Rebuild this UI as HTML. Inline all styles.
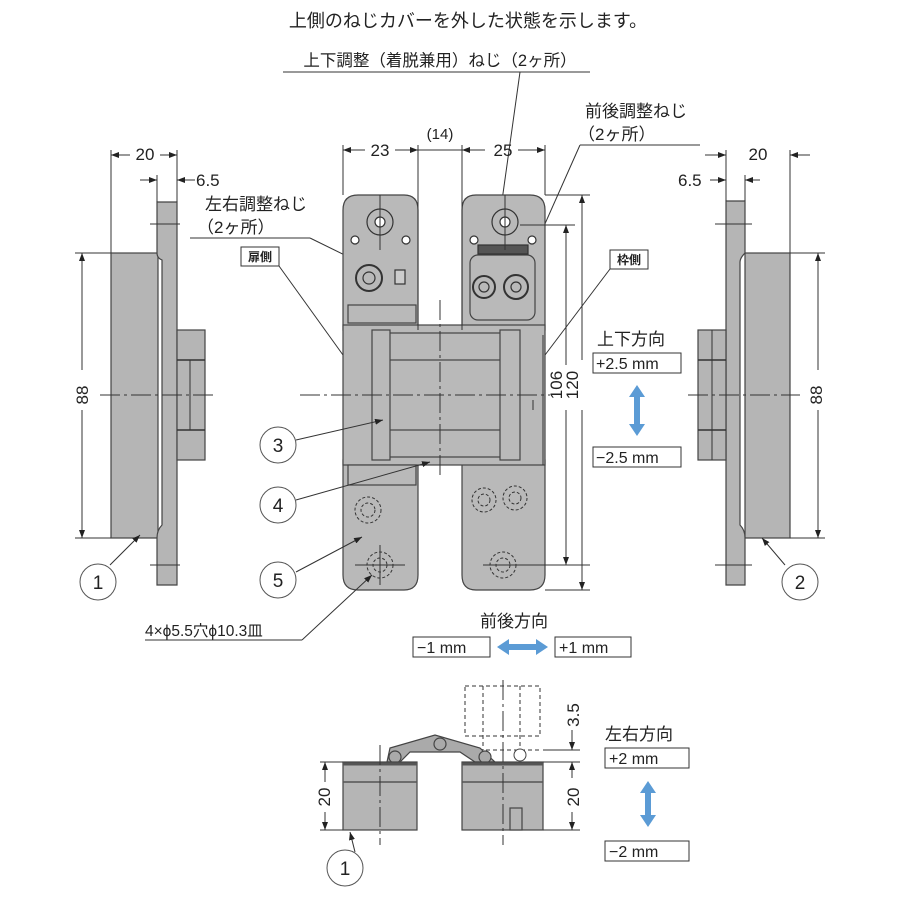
<!DOCTYPE html>
<html><head><meta charset="utf-8"><style>
html,body{margin:0;padding:0;background:#fff;}
svg{display:block;font-family:"Liberation Sans","Noto Sans CJK JP",sans-serif;}
</style></head><body>
<svg width="900" height="900" viewBox="0 0 900 900" xmlns="http://www.w3.org/2000/svg">
<defs>
<marker id="ar" markerWidth="8" markerHeight="6" refX="8" refY="3" orient="auto-start-reverse" markerUnits="userSpaceOnUse"><path d="M0,0 L8,3 L0,6z" fill="#222"/></marker>
</defs>
<g fill="#222" font-size="16">
<text x="468" y="27" text-anchor="middle" font-size="18">上側のねじカバーを外した状態を示します。</text>
<text x="440" y="66" text-anchor="middle" font-size="16.5">上下調整（着脱兼用）ねじ（2ヶ所）</text>
<text x="585" y="117" font-size="17">前後調整ねじ</text>
<text x="578" y="140" font-size="17">（2ヶ所）</text>
<text x="205" y="210" font-size="17">左右調整ねじ</text>
<text x="197" y="233" font-size="17">（2ヶ所）</text>
</g>
<g stroke="#333" stroke-width="1" fill="none">
<line x1="283" y1="72" x2="590" y2="72"/>
<line x1="520" y1="72" x2="500" y2="215"/>
<line x1="580" y1="145" x2="700" y2="145"/>
<line x1="580" y1="145" x2="520" y2="280"/>
<line x1="190" y1="238" x2="310" y2="238"/>
<line x1="310" y1="238" x2="365" y2="265"/>
</g>

<!-- LEFT SIDE VIEW -->
<g stroke="#444" stroke-width="1.2" fill="#b5b5b5">
<rect x="111" y="253" width="47" height="285"/>
<path d="M157,202 H177 V585 H157 V538 Q157,530 162,525 V260 Q157,258 157,253 Z"/>
<rect x="177" y="330" width="28" height="130"/>
</g>
<g stroke="#333" stroke-width="1.5"><line x1="177" y1="360" x2="205" y2="360"/><line x1="177" y1="430" x2="205" y2="430"/><line x1="190" y1="360" x2="190" y2="430" stroke-width="1"/></g>
<g stroke="#333" stroke-width="1" fill="none">
<line x1="111" y1="150" x2="111" y2="253"/><line x1="177" y1="150" x2="177" y2="202"/>
<line x1="111" y1="155" x2="130" y2="155" marker-start="url(#ar)"/><line x1="160" y1="155" x2="177" y2="155" marker-end="url(#ar)"/>
<line x1="157" y1="175" x2="157" y2="202"/>
<line x1="140" y1="180" x2="157" y2="180" marker-end="url(#ar)"/><line x1="195" y1="180" x2="177" y2="180" marker-end="url(#ar)"/>
<line x1="75" y1="253" x2="111" y2="253"/><line x1="75" y1="538" x2="111" y2="538"/>
<line x1="82" y1="253" x2="82" y2="370" marker-start="url(#ar)"/><line x1="82" y1="410" x2="82" y2="538" marker-end="url(#ar)"/>
<line x1="100" y1="395" x2="215" y2="395" stroke-dasharray="20,4,3,4"/>
<line x1="150" y1="224" x2="180" y2="224"/><line x1="150" y1="565" x2="180" y2="565"/>
<line x1="110" y1="565" x2="140" y2="535" marker-end="url(#ar)"/>
</g>
<g fill="#222" font-size="17">
<text x="145" y="160" text-anchor="middle">20</text>
<text x="196" y="186">6.5</text>
<text x="88" y="395" text-anchor="middle" transform="rotate(-90 88 395)">88</text>
</g>

<!-- RIGHT SIDE VIEW -->
<g stroke="#444" stroke-width="1.2" fill="#b5b5b5">
<rect x="745" y="253" width="45" height="285"/>
<path d="M726,201 H745 V253 Q740,258 740,262 V525 Q745,530 745,538 V585 H726 Z"/>
<rect x="698" y="330" width="28" height="130"/>
</g>
<g stroke="#333" stroke-width="1.5"><line x1="698" y1="360" x2="726" y2="360"/><line x1="698" y1="430" x2="726" y2="430"/><line x1="712" y1="330" x2="712" y2="460" stroke-width="1"/></g>
<g stroke="#333" stroke-width="1" fill="none">
<line x1="726" y1="150" x2="726" y2="201"/><line x1="790" y1="150" x2="790" y2="253"/>
<line x1="705" y1="155" x2="726" y2="155" marker-end="url(#ar)"/><line x1="810" y1="155" x2="790" y2="155" marker-end="url(#ar)"/>
<line x1="745" y1="175" x2="745" y2="201"/>
<line x1="710" y1="180" x2="726" y2="180" marker-end="url(#ar)"/><line x1="760" y1="180" x2="745" y2="180" marker-end="url(#ar)"/>
<line x1="790" y1="253" x2="825" y2="253"/><line x1="790" y1="538" x2="825" y2="538"/>
<line x1="818" y1="253" x2="818" y2="370" marker-start="url(#ar)"/><line x1="818" y1="410" x2="818" y2="538" marker-end="url(#ar)"/>
<line x1="688" y1="395" x2="800" y2="395" stroke-dasharray="20,4,3,4"/>
<line x1="715" y1="224" x2="752" y2="224"/><line x1="715" y1="565" x2="752" y2="565"/>
<line x1="785" y1="565" x2="762" y2="538" marker-end="url(#ar)"/>
</g>
<g fill="#222" font-size="17">
<text x="758" y="160" text-anchor="middle">20</text>
<text x="678" y="186">6.5</text>
<text x="822" y="395" text-anchor="middle" transform="rotate(-90 822 395)">88</text>
</g>

<!-- CENTER HINGE -->
<g stroke="#444" stroke-width="1.2" fill="#b9b9b9">
<path d="M358,195 H404 Q418,195 418,210 V330 H343 V210 Q343,195 358,195 Z"/>
<path d="M476,195 H530 Q545,195 545,210 V330 H462 V210 Q462,195 476,195 Z"/>
<path d="M343,460 H418 V575 Q418,590 404,590 H358 Q343,590 343,575 Z"/>
<path d="M462,460 H545 V575 Q545,590 530,590 H476 Q462,590 462,575 Z"/>
<rect x="343" y="325" width="202" height="140"/>
<rect x="388" y="333" width="113" height="124"/>
<rect x="388" y="360" width="113" height="70"/>
<rect x="372" y="330" width="18" height="130"/>
<rect x="500" y="330" width="20" height="130"/>
<rect x="470" y="255" width="65" height="65" rx="8"/>
<rect x="348" y="305" width="68" height="18"/>
<rect x="348" y="465" width="68" height="20"/>
</g>
<g stroke="#333" stroke-width="1.2" fill="#b9b9b9">
<circle cx="380" cy="222" r="13"/><circle cx="380" cy="222" r="5" fill="#fff"/>
<circle cx="505" cy="222" r="13"/><circle cx="505" cy="222" r="5" fill="#fff"/>
<circle cx="355" cy="240" r="4" fill="#fff"/><circle cx="406" cy="240" r="4" fill="#fff"/>
<circle cx="474" cy="240" r="4" fill="#fff"/><circle cx="532" cy="240" r="4" fill="#fff"/>
<circle cx="369" cy="278" r="13" stroke-width="2"/><circle cx="369" cy="278" r="6"/>
<circle cx="484" cy="287" r="11" stroke-width="2"/><circle cx="484" cy="287" r="5"/>
<circle cx="516" cy="287" r="12" stroke-width="2"/><circle cx="516" cy="287" r="5"/>
<rect x="395" y="270" width="10" height="14" fill="#ccc"/>
<rect x="478" y="245" width="50" height="9" fill="#555"/>
</g>
<g stroke="#333" stroke-width="1" fill="none" stroke-dasharray="3,2">
<circle cx="368" cy="510" r="13"/><circle cx="368" cy="510" r="7"/>
<circle cx="380" cy="565" r="13"/><circle cx="380" cy="565" r="7"/>
<circle cx="484" cy="500" r="12"/><circle cx="484" cy="500" r="6"/>
<circle cx="515" cy="498" r="12"/><circle cx="515" cy="498" r="6"/>
<circle cx="503" cy="565" r="13"/><circle cx="503" cy="565" r="7"/>
</g>
<g stroke="#333" stroke-width="1" fill="none">
<line x1="343" y1="145" x2="343" y2="195"/><line x1="418" y1="145" x2="418" y2="330"/>
<line x1="462" y1="145" x2="462" y2="330"/><line x1="545" y1="145" x2="545" y2="195"/>
<line x1="343" y1="150" x2="365" y2="150" marker-start="url(#ar)"/><line x1="395" y1="150" x2="418" y2="150" marker-end="url(#ar)"/>
<line x1="418" y1="150" x2="462" y2="150"/>
<line x1="462" y1="150" x2="485" y2="150" marker-start="url(#ar)"/><line x1="518" y1="150" x2="545" y2="150" marker-end="url(#ar)"/>
<line x1="545" y1="195" x2="590" y2="195"/><line x1="545" y1="590" x2="590" y2="590"/>
<line x1="520" y1="225" x2="575" y2="225"/><line x1="520" y1="565" x2="575" y2="565"/>
<line x1="566" y1="225" x2="566" y2="365" marker-start="url(#ar)"/><line x1="566" y1="410" x2="566" y2="565" marker-end="url(#ar)"/>
<line x1="582" y1="195" x2="582" y2="360" marker-start="url(#ar)"/><line x1="582" y1="410" x2="582" y2="590" marker-end="url(#ar)"/>
<line x1="300" y1="395" x2="550" y2="395" stroke-dasharray="20,4,3,4"/>
<line x1="440" y1="300" x2="440" y2="475" stroke-dasharray="20,4,3,4"/>
<line x1="380" y1="195" x2="380" y2="250"/><line x1="505" y1="195" x2="505" y2="250"/>
<line x1="355" y1="565" x2="405" y2="565"/>
<line x1="380" y1="545" x2="380" y2="585"/>
<line x1="483" y1="565" x2="590" y2="565"/>
<line x1="533" y1="400" x2="533" y2="410"/>
<line x1="543" y1="335" x2="543" y2="465"/>
</g>
<g fill="#222" font-size="17">
<text x="380" y="156" text-anchor="middle">23</text>
<text x="440" y="139" text-anchor="middle" font-size="15">(14)</text>
<text x="503" y="156" text-anchor="middle">25</text>
<text x="562" y="385" text-anchor="middle" transform="rotate(-90 562 385)">106</text>
<text x="578" y="385" text-anchor="middle" transform="rotate(-90 578 385)">120</text>
</g>

<!-- labels 扉側 枠側 -->
<g stroke="#333" stroke-width="1" fill="#fff">
<rect x="241" y="247" width="38" height="19"/><rect x="610" y="250" width="38" height="19"/>
</g>
<g font-size="12" fill="#222" font-weight="bold"><text x="260" y="261" text-anchor="middle">扉側</text><text x="629" y="264" text-anchor="middle">枠側</text></g>
<g stroke="#333" stroke-width="1" fill="none">
<line x1="279" y1="266" x2="343" y2="355"/><line x1="610" y1="269" x2="545" y2="355"/>
</g>

<!-- circled numbers -->
<g stroke="#555" stroke-width="1" fill="#fff">
<circle cx="98" cy="582" r="18"/><circle cx="800" cy="582" r="18"/>
<circle cx="278" cy="445" r="18"/><circle cx="278" cy="505" r="18"/><circle cx="278" cy="580" r="18"/>
<circle cx="345" cy="868" r="18"/>
</g>
<g font-size="19" fill="#222" text-anchor="middle">
<text x="98" y="589">1</text><text x="800" y="589">2</text>
<text x="278" y="452">3</text><text x="278" y="512">4</text><text x="278" y="587">5</text>
<text x="345" y="875">1</text>
</g>
<g stroke="#333" stroke-width="1" fill="none">
<line x1="296" y1="440" x2="383" y2="420" marker-end="url(#ar)"/>
<line x1="296" y1="500" x2="430" y2="462" marker-end="url(#ar)"/>
<line x1="296" y1="572" x2="362" y2="537" marker-end="url(#ar)"/>
<line x1="145" y1="640" x2="302" y2="640"/><line x1="302" y1="640" x2="372" y2="575" marker-end="url(#ar)"/>
</g>
<text x="145" y="636" font-size="15.5" fill="#222">4×ϕ5.5穴ϕ10.3皿</text>

<!-- 上下方向 -->
<text x="597" y="345" font-size="17" fill="#222">上下方向</text>
<g stroke="#333" stroke-width="1" fill="#fff">
<rect x="593" y="353" width="88" height="20"/><rect x="593" y="447" width="88" height="20"/>
<rect x="413" y="637" width="77" height="20"/><rect x="555" y="637" width="76" height="20"/>
<rect x="605" y="748" width="84" height="20"/><rect x="605" y="841" width="84" height="20"/>
</g>
<g font-size="16" fill="#222">
<text x="596" y="369">+2.5 mm</text><text x="596" y="463">−2.5 mm</text>
<text x="417" y="653">−1 mm</text><text x="559" y="653">+1 mm</text>
<text x="609" y="764">+2 mm</text><text x="609" y="857">−2 mm</text>
<text x="605" y="740" font-size="17">左右方向</text>
<text x="480" y="627" font-size="17">前後方向</text>
</g>
<g fill="#5b9bd5">
<path d="M637,385 L645,397 H640 V424 H645 L637,436 L629,424 H634 V397 H629 Z"/>
<path d="M497,647 L509,639 V644 H536 V639 L548,647 L536,655 V650 H509 V655 Z"/>
<path d="M648,781 L656,793 H651 V815 H656 L648,827 L640,815 H645 V793 H640 Z"/>
</g>

<!-- BOTTOM VIEW -->
<g stroke="#333" stroke-width="1" fill="none" stroke-dasharray="4,3">
<rect x="465" y="686" width="75" height="50"/>
<line x1="483" y1="686" x2="483" y2="750"/><line x1="520" y1="686" x2="520" y2="760"/>
<line x1="465" y1="750" x2="540" y2="750"/>
</g>
<g stroke="#444" stroke-width="1.2" fill="#aaa">
<path d="M387,762 L390,748 L435,735 L480,748 L495,762 L475,762 L460,752 L410,752 L400,762 Z"/>
<circle cx="395" cy="757" r="6"/><circle cx="440" cy="744" r="6"/><circle cx="485" cy="757" r="6"/>
</g>
<circle cx="520" cy="755" r="6" fill="#fff" stroke="#444"/>
<g stroke="#444" stroke-width="1.2" fill="#b5b5b5">
<rect x="343" y="762" width="74" height="68"/><rect x="462" y="762" width="81" height="68"/>
<rect x="510" y="808" width="12" height="22"/>
</g>
<g stroke="#555" stroke-width="3"><line x1="343" y1="764" x2="417" y2="764"/><line x1="462" y1="764" x2="543" y2="764"/></g>
<g stroke="#555" stroke-width="1.5"><line x1="343" y1="782" x2="417" y2="782"/><line x1="462" y1="782" x2="543" y2="782"/></g>
<g stroke="#333" stroke-width="1" fill="none">
<line x1="380" y1="745" x2="380" y2="845" stroke-dasharray="20,4,3,4"/>
<line x1="503" y1="680" x2="503" y2="845" stroke-dasharray="20,4,3,4"/>
<line x1="320" y1="762" x2="343" y2="762"/><line x1="320" y1="830" x2="343" y2="830"/>
<line x1="325" y1="762" x2="325" y2="782" marker-start="url(#ar)"/><line x1="325" y1="812" x2="325" y2="830" marker-end="url(#ar)"/>
<line x1="543" y1="750" x2="580" y2="750"/><line x1="543" y1="762" x2="580" y2="762"/><line x1="543" y1="830" x2="580" y2="830"/>
<line x1="572" y1="730" x2="572" y2="750" marker-end="url(#ar)"/>
<line x1="572" y1="762" x2="572" y2="778" marker-start="url(#ar)"/><line x1="572" y1="812" x2="572" y2="830" marker-end="url(#ar)"/>
<line x1="355" y1="852" x2="350" y2="832" marker-end="url(#ar)"/>
</g>
<g fill="#222" font-size="17">
<text x="325" y="802" text-anchor="middle" transform="rotate(-90 325 797)">20</text>
<text x="574" y="802" text-anchor="middle" transform="rotate(-90 574 797)">20</text>
<text x="574" y="720" text-anchor="middle" transform="rotate(-90 574 715)">3.5</text>
</g>
</svg>
</body></html>
